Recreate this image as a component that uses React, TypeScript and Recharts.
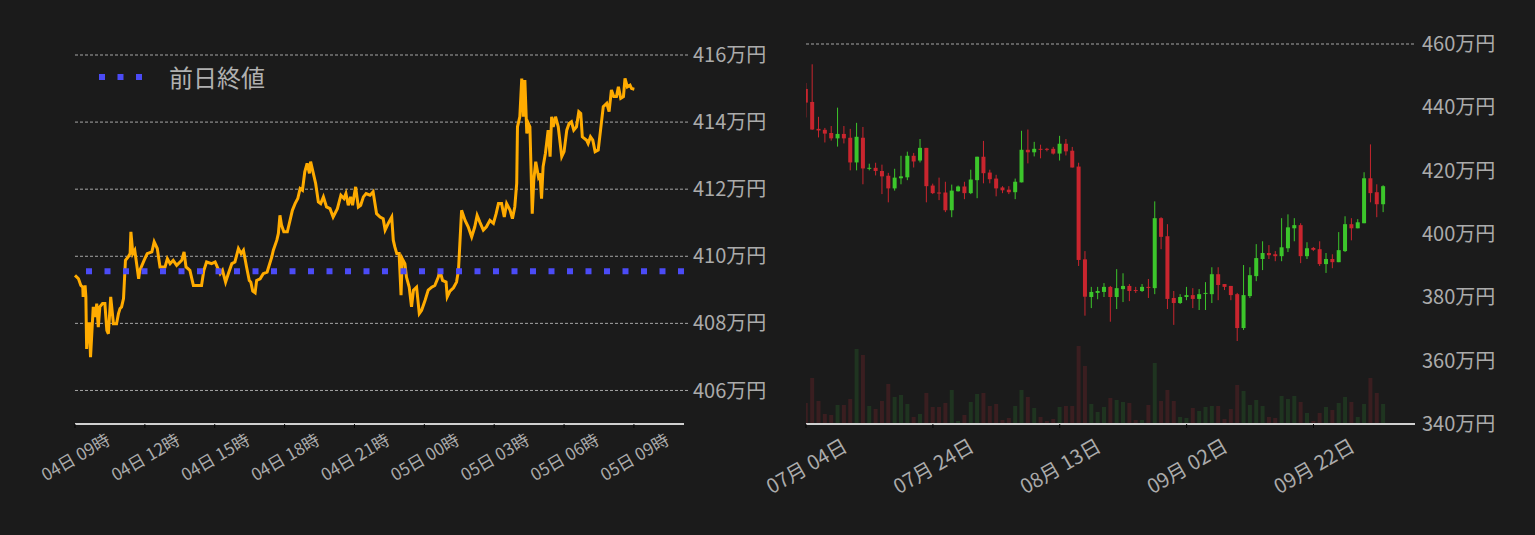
import React from 'react';
import {
  ComposedChart, LineChart, Line, Bar, Cell, XAxis, YAxis, CartesianGrid, ReferenceLine,
} from 'recharts';

// ---- intraday (left) ----
const prevClose = 409.55;
const intradayTickMinutes = [0, 180, 360, 540, 720, 900, 1080, 1260, 1440];
const intradayTickLabels = ['04日 09時', '04日 12時', '04日 15時', '04日 18時', '04日 21時', '05日 00時', '05日 03時', '05日 06時', '05日 09時'];
const intradayPriceTicks = [406, 408, 410, 412, 414, 416];

// minutes since 04日 09:00
const intradayMinutes = [
  0, 9, 15, 20, 21, 26, 28, 30, 34, 37,
  40, 47, 52, 56, 60, 64, 71, 77, 82, 86,
  92, 99, 107, 112, 116, 120, 125, 130, 137, 142,
  144, 149, 154, 164, 167, 178, 186, 198, 204, 212,
  219, 232, 238, 245, 253, 262, 275, 281, 286, 296,
  305, 326, 332, 339, 352, 361, 374, 380, 388, 395,
  404, 412, 421, 428, 434, 442, 449, 453, 458, 464,
  468, 477, 485, 495, 507, 511, 520, 524, 528, 532,
  538, 547, 554, 560, 567, 574, 580, 586, 592, 598,
  604, 607, 614, 620, 627, 633, 640, 648, 657, 665,
  676, 685, 693, 698, 704, 710, 715, 723, 730, 736,
  743, 750, 760, 768, 777, 786, 794, 799, 807, 816,
  820, 824, 829, 835, 840, 843, 850, 854, 861, 867,
  872, 880, 887, 893, 902, 910, 919, 927, 936, 940,
  947, 956, 959, 966, 975, 983, 988, 992, 996, 1005,
  1013, 1022, 1030, 1036, 1043, 1052, 1060, 1069, 1078, 1085,
  1091, 1099, 1106, 1112, 1121, 1127, 1133, 1138, 1140, 1146,
  1151, 1155, 1159, 1164, 1168, 1172, 1178, 1182, 1187, 1194,
  1198, 1202, 1206, 1212, 1219, 1224, 1228, 1232, 1238, 1245,
  1254, 1260, 1267, 1273, 1279, 1285, 1292, 1298, 1303, 1307,
  1318, 1322, 1328, 1334, 1340, 1348, 1354, 1361, 1370, 1376,
  1382, 1388, 1395, 1400, 1406, 1413, 1417, 1423, 1430, 1434,
  1441,
];
// 万円
const intradayPrices = [
  409.43, 409.33, 409.13, 409.08, 408.79, 409.13, 408.79, 407.24, 407.99, 407.99,
  406.99, 408.49, 408.19, 408.59, 407.89, 408.49, 408.59, 408.59, 407.79, 407.69,
  408.79, 407.99, 407.99, 408.29, 408.44, 408.49, 408.74, 409.88, 409.98, 410.08,
  410.73, 410.08, 410.18, 409.33, 409.58, 409.88, 410.08, 410.13, 410.43, 410.23,
  409.68, 409.68, 409.93, 409.78, 409.88, 409.73, 409.88, 410.13, 409.68, 409.58,
  409.13, 409.13, 409.58, 409.83, 409.78, 409.83, 409.48, 409.58, 409.23, 409.48,
  409.78, 409.83, 410.23, 410.08, 410.18, 409.68, 409.28, 409.23, 408.96, 408.91,
  409.28, 409.33, 409.48, 409.53, 409.98, 410.18, 410.48, 410.68, 411.22, 410.93,
  410.73, 410.73, 411.07, 411.37, 411.57, 411.72, 412.02, 411.97, 412.52, 412.77,
  412.47, 412.82, 412.47, 412.17, 411.62, 411.57, 411.77, 411.47, 411.42, 411.17,
  411.42, 411.82, 411.72, 411.87, 411.52, 411.77, 411.52, 412.07, 411.47, 411.52,
  411.77, 411.87, 411.82, 411.92, 411.27, 411.17, 411.12, 410.78, 410.98, 411.17,
  410.48, 410.28, 410.08, 410.08, 408.84, 409.93, 409.78, 409.38, 409.08, 408.49,
  408.99, 409.08, 408.29, 408.39, 408.69, 408.99, 409.08, 409.13, 409.38, 409.58,
  409.28, 409.23, 408.79, 408.96, 409.06, 409.23, 409.58, 410.48, 411.37, 411.07,
  410.88, 410.58, 410.88, 411.22, 411.02, 410.78, 410.88, 411.07, 410.98, 411.27,
  411.57, 411.57, 411.17, 411.57, 411.37, 411.12, 411.47, 412.17, 413.86, 414.16,
  415.30, 414.16, 415.25, 413.66, 413.96, 413.86, 411.27, 412.27, 412.82, 412.37,
  412.47, 411.72, 412.67, 413.07, 413.76, 412.97, 414.16, 413.86, 414.16, 413.86,
  412.97, 413.12, 413.76, 413.96, 414.01, 413.76, 413.86, 414.31, 414.26, 413.56,
  413.46, 413.36, 413.56, 413.46, 413.12, 413.17, 413.76, 414.46, 414.56, 414.31,
  414.96, 414.76, 414.76, 415.05, 414.71, 414.76, 415.30, 415.05, 415.10, 415.00,
  414.98,
];

// ---- daily candles (right), day 0 = 07月04日 ----
const dailyTickDays = [0, 20, 40, 60, 80];
const dailyTickLabels = ['07月 04日', '07月 24日', '08月 13日', '09月 02日', '09月 22日'];
const dailyPriceTicks = [340, 360, 380, 400, 420, 440, 460];

const dailyOpen = [
  445.8, 441.7, 433.2, 432.9, 431.9, 430.2, 431.6, 430.4, 422.6, 430.4,
  420.7, 420.9, 419.9, 418.4, 414.4, 417.6, 417.9, 424.7, 423.2, 427.2,
  415.3, 413.1, 413.1, 407.5, 413.5, 415.0, 412.9, 417.0, 424.4, 419.4,
  417.5, 414.7, 414.0, 413.2, 416.3, 426.6, 425.8, 426.9, 426.9, 426.9,
  425.4, 428.5, 426.3, 421.3, 392.0, 380.1, 381.4, 381.7, 383.3, 380.1,
  382.6, 383.6, 382.3, 382.0, 383.3, 382.9, 405.0, 399.3, 379.8, 378.2,
  380.1, 380.7, 379.5, 381.1, 381.0, 387.3, 384.2, 383.6, 381.0, 370.3,
  380.4, 386.7, 392.1, 394.0, 393.6, 393.0, 395.5, 401.8, 402.8, 393.0,
  395.6, 395.2, 390.5, 392.1, 391.1, 394.6, 403.1, 401.8, 403.4, 417.6,
  413.2, 409.4,
];
const dailyHigh = [
  447.7, 453.6, 437.0, 433.5, 434.1, 439.9, 434.1, 433.2, 435.1, 433.8,
  422.2, 422.5, 421.9, 419.3, 420.6, 424.7, 426.0, 425.6, 430.0, 427.2,
  415.9, 417.8, 416.5, 415.6, 415.3, 416.5, 420.3, 424.4, 429.4, 420.3,
  418.7, 415.1, 415.1, 417.5, 432.6, 433.0, 429.1, 428.2, 427.2, 427.5,
  431.0, 430.0, 427.5, 422.5, 394.6, 383.3, 383.3, 384.5, 383.6, 388.9,
  387.6, 384.2, 383.3, 384.2, 385.8, 410.3, 405.3, 403.1, 382.0, 381.0,
  383.3, 382.9, 382.6, 384.8, 389.5, 389.5, 384.2, 383.6, 381.4, 390.2,
  389.5, 396.8, 397.7, 396.5, 394.6, 405.0, 406.2, 405.0, 403.4, 397.4,
  395.9, 397.7, 394.0, 393.6, 400.6, 405.6, 405.0, 404.7, 419.5, 428.3,
  415.7, 415.4,
];
const dailyLow = [
  436.8, 432.9, 430.5, 428.9, 429.5, 427.6, 428.6, 420.1, 420.1, 415.7,
  420.1, 418.5, 412.6, 410.0, 413.7, 415.7, 417.0, 421.0, 422.6, 410.0,
  412.6, 410.7, 406.9, 405.3, 413.4, 411.0, 412.6, 411.3, 416.0, 416.0,
  411.9, 412.9, 412.6, 411.0, 416.3, 422.3, 424.5, 423.9, 426.1, 425.1,
  423.2, 424.8, 421.0, 389.9, 374.2, 376.6, 379.4, 380.1, 372.3, 376.3,
  378.5, 378.8, 381.4, 381.7, 379.8, 381.0, 395.2, 376.3, 371.3, 377.9,
  379.1, 376.6, 376.0, 376.0, 378.2, 379.1, 382.3, 379.1, 366.2, 369.7,
  379.8, 385.1, 388.6, 392.1, 391.4, 391.4, 394.3, 397.7, 390.8, 392.1,
  394.6, 389.9, 387.7, 389.2, 391.1, 394.3, 398.0, 401.8, 403.4, 410.0,
  405.3, 406.9,
];
const dailyClose = [
  441.5, 433.0, 432.7, 431.7, 430.2, 431.6, 430.2, 422.6, 430.7, 420.7,
  420.9, 419.9, 418.2, 414.4, 417.8, 418.2, 424.7, 422.9, 427.2, 415.1,
  412.9, 412.9, 407.5, 413.7, 415.0, 412.9, 417.2, 424.4, 419.2, 417.3,
  414.4, 413.8, 413.2, 416.5, 426.6, 425.8, 426.9, 426.7, 426.7, 425.4,
  428.5, 426.1, 421.0, 391.8, 380.2, 381.7, 382.0, 383.3, 380.1, 382.9,
  383.6, 382.0, 382.0, 383.3, 383.0, 405.0, 399.1, 379.5, 378.2, 380.1,
  380.7, 379.5, 381.0, 381.4, 387.3, 383.9, 383.3, 380.7, 370.3, 380.7,
  387.0, 392.4, 394.0, 393.3, 393.0, 395.8, 402.1, 402.8, 393.0, 395.5,
  395.0, 390.5, 392.1, 391.1, 394.9, 403.1, 401.8, 403.7, 417.6, 412.9,
  409.4, 415.1,
];
const dailyVolume = [
  21, 46, 23, 10, 9, 19, 19, 25, 75, 69,
  18, 15, 23, 40, 27, 29, 20, 7, 10, 31,
  17, 17, 21, 34, 3, 9, 22, 30, 31, 18,
  20, 4, 6, 18, 34, 27, 16, 7, 3, 5,
  17, 18, 18, 78, 58, 20, 12, 17, 26, 24,
  22, 21, 4, 4, 19, 61, 23, 34, 23, 7,
  6, 16, 13, 17, 18, 18, 5, 15, 39, 33,
  19, 24, 18, 7, 6, 28, 25, 28, 22, 11,
  3, 11, 17, 14, 21, 27, 22, 7, 20, 46,
  31, 20,
];

const BG = '#1b1b1b';
const TEXT = '#ababab';
const GRID = '#a6a6a6';
const FONT = "'Noto Sans CJK JP', 'Noto Sans', sans-serif";
const UP = '#3cc62b';
const DOWN = '#c9252e';
const UP_VOL = '#1f3420';
const DOWN_VOL = '#3a1e20';

const intradayData = intradayMinutes.map((m, i) => ({ m, price: intradayPrices[i] }));
const dailyData = dailyOpen.map((open, i) => ({
  day: i,
  open,
  high: dailyHigh[i],
  low: dailyLow[i],
  close: dailyClose[i],
  volume: dailyVolume[i],
}));

const SlantTick = (props: any) => {
  const { x, y, payload, labels, step, dy, fontSize } = props;
  const label = labels[Math.round(payload.value / step)];
  return (
    <text
      transform={`translate(${x},${y + dy}) rotate(-30)`}
      textAnchor="middle"
      dominantBaseline="central"
      fill={TEXT}
      fontSize={fontSize}
      fontFamily={FONT}
    >
      {label}
    </text>
  );
};

const Candle = (props: any) => {
  const { x, y, width, height, payload } = props;
  const { open, close, high, low } = payload;
  const color = close >= open ? UP : DOWN;
  const top = Math.min(y, y + height);
  const bottom = Math.max(y, y + height);
  const span = high - low;
  const toY = (v: number) => (span === 0 ? top : top + ((high - v) / span) * (bottom - top));
  const bodyTop = toY(Math.max(open, close));
  const bodyBottom = toY(Math.min(open, close));
  const cx = x + width / 2;
  return (
    <g>
      <line x1={cx} x2={cx} y1={top} y2={bottom} stroke={color} strokeWidth={1} />
      <rect x={x} y={bodyTop} width={width} height={Math.max(bodyBottom - bodyTop, 1)} fill={color} />
    </g>
  );
};

const axisTick = { fill: TEXT, fontSize: 20, fontFamily: FONT };

export default function App() {
  return (
    <div style={{ position: 'relative', width: 1535, height: 535, background: BG, overflow: 'hidden' }}>
      <style>{`body{margin:0;background:${BG};}`}</style>

      {/* intraday */}
      <div style={{ position: 'absolute', left: 0, top: 0 }}>
        <LineChart width={790} height={535} data={intradayData} margin={{ top: 55, right: 6, bottom: 0, left: 75 }}>
          <CartesianGrid vertical={false} stroke={GRID} strokeDasharray="3 2" />
          <XAxis
            dataKey="m"
            type="number"
            domain={[0, 1569]}
            ticks={intradayTickMinutes}
            interval={0}
            height={111}
            axisLine={{ stroke: '#d0d0d0', strokeWidth: 2 }}
            tickLine={{ stroke: '#050505' }}
            tickSize={4}
            tickMargin={2}
            tick={<SlantTick labels={intradayTickLabels} step={180} dy={26} fontSize={17} />}
          />
          <YAxis
            orientation="right"
            type="number"
            domain={[405, 416]}
            ticks={intradayPriceTicks}
            interval={0}
            width={100}
            axisLine={false}
            tickLine={{ stroke: GRID, strokeDasharray: '3 2' }}
            tickSize={4}
            tickMargin={5}
            tick={axisTick}
            tickFormatter={(v) => `${v}万円`}
          />
          <Line
            dataKey="price"
            type="linear"
            stroke="#ffab00"
            strokeWidth={3}
            dot={false}
            isAnimationActive={false}
          />
          <ReferenceLine y={prevClose} stroke="#4b4bf6" strokeWidth={6} strokeDasharray="6 12.5" />
        </LineChart>
      </div>

      {/* legend */}
      <div style={{ position: 'absolute', left: 99, top: 61, display: 'flex', alignItems: 'center', fontFamily: FONT }}>
        <svg width={44} height={32}>
          <line x1={0} x2={44} y1={16} y2={16} stroke="#4b4bf6" strokeWidth={6} strokeDasharray="6 12.5" />
        </svg>
        <span style={{ marginLeft: 26, fontSize: 24, color: '#b0b0b0', lineHeight: '32px' }}>前日終値</span>
      </div>

      {/* daily */}
      <div style={{ position: 'absolute', left: 760, top: 0 }}>
        <ComposedChart width={775} height={535} data={dailyData} margin={{ top: 44, right: 10, bottom: 0, left: 46 }}>
          <CartesianGrid vertical={false} stroke={GRID} strokeDasharray="3 2" />
          <XAxis
            xAxisId="px"
            dataKey="day"
            type="number"
            domain={[0, 96]}
            allowDataOverflow
            ticks={dailyTickDays}
            interval={0}
            height={111}
            axisLine={{ stroke: '#d0d0d0', strokeWidth: 2 }}
            tickLine={{ stroke: '#050505' }}
            tickSize={4}
            tickMargin={2}
            tick={<SlantTick labels={dailyTickLabels} step={20} dy={35} fontSize={20} />}
          />
          <XAxis xAxisId="vx" dataKey="day" type="number" domain={[0, 96]} allowDataOverflow hide />
          <YAxis
            yAxisId="price"
            orientation="right"
            type="number"
            domain={[340, 460]}
            ticks={dailyPriceTicks}
            interval={0}
            width={110}
            axisLine={false}
            tickLine={false}
            tickSize={0}
            tickMargin={7}
            tick={axisTick}
            tickFormatter={(v) => `${v}万円`}
          />
          <YAxis yAxisId="vol" type="number" domain={[0, 380]} hide />
          <Bar xAxisId="vx" yAxisId="vol" dataKey="volume" barSize={4} isAnimationActive={false}>
            {dailyData.map((d) => (
              <Cell key={d.day} fill={d.close >= d.open ? UP_VOL : DOWN_VOL} />
            ))}
          </Bar>
          <Bar
            xAxisId="px"
            yAxisId="price"
            dataKey={(d: any) => [d.low, d.high]}
            barSize={4}
            shape={<Candle />}
            isAnimationActive={false}
          />
        </ComposedChart>
      </div>
    </div>
  );
}
